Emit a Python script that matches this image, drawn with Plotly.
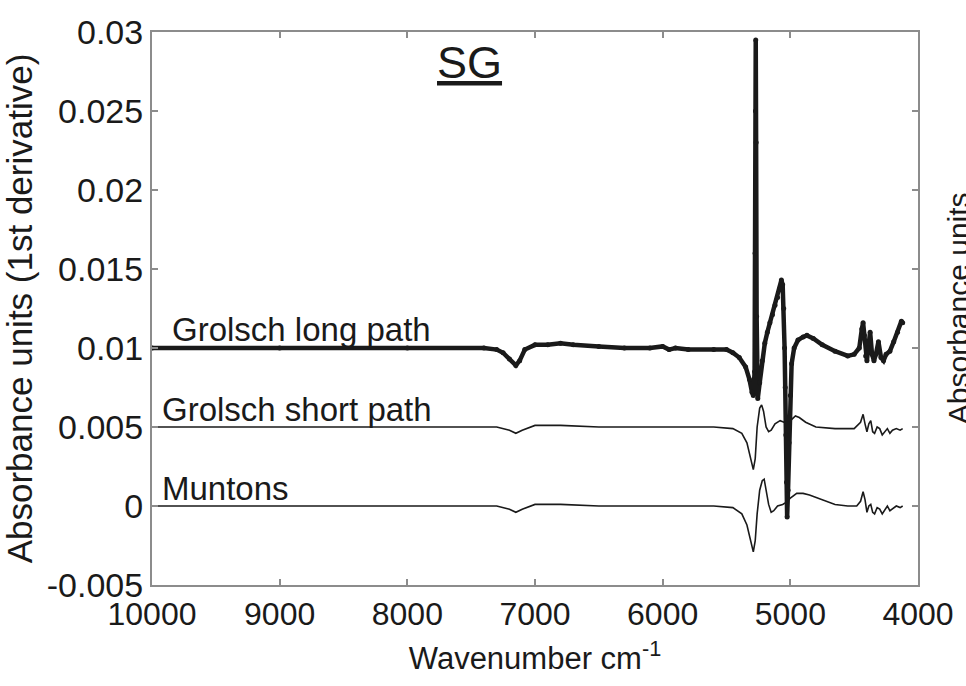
import plotly.graph_objects as go

# ---------------- data ----------------
long_x = [10000, 9000, 8000, 7400, 7300, 7250, 7200, 7150, 7120, 7080, 7000, 6900, 6800, 6700, 6500,
          6300, 6100, 6000, 5950, 5900, 5800, 5600, 5500, 5450, 5400, 5350, 5320, 5300, 5290, 5280,
          5276, 5273, 5271, 5268, 5264, 5255, 5240, 5220, 5200, 5180, 5160, 5140, 5120, 5100, 5080,
          5070, 5060, 5052, 5045, 5040, 5035, 5030, 5025, 5018, 5010, 5000, 4990, 4970, 4940, 4900,
          4870, 4820, 4750, 4650, 4550, 4500, 4460, 4440, 4430, 4420, 4410, 4400, 4390, 4375, 4360,
          4345, 4330, 4310, 4290, 4270, 4250, 4220, 4190, 4160, 4130, 4120]
long_y = [0.0100, 0.0100, 0.0100, 0.0100, 0.0099, 0.0097, 0.0093, 0.0089, 0.0092, 0.0099, 0.0102, 0.0102,
          0.0103, 0.0102, 0.0101, 0.0100, 0.0100, 0.0101, 0.0099, 0.0100, 0.0099, 0.0099, 0.0099, 0.0097,
          0.0094, 0.0088, 0.0080, 0.0072, 0.0070, 0.0085, 0.0160, 0.0250, 0.0295, 0.0230, 0.0120, 0.0068,
          0.0078, 0.0092, 0.0103, 0.0110, 0.0116, 0.0121, 0.0127, 0.0132, 0.0138, 0.0143, 0.0140, 0.0125,
          0.0100, 0.0075, 0.0045, 0.0015, -0.0007, 0.0010, 0.0040, 0.0070, 0.0090, 0.0100, 0.0105, 0.0107,
          0.0108, 0.0106, 0.0102, 0.0098, 0.0095, 0.0096, 0.0100, 0.0112, 0.0116, 0.0108, 0.0095, 0.0092,
          0.0100, 0.0110, 0.0096, 0.0092, 0.0096, 0.0104, 0.0094, 0.0092, 0.0096, 0.0098, 0.0104, 0.0110,
          0.0117, 0.0116]

short_x = [10000, 9000, 8000, 7300, 7200, 7150, 7100, 7000, 6800, 6500, 6000, 5600, 5450, 5380, 5340,
           5310, 5290, 5275, 5260, 5240, 5225, 5210, 5190, 5170, 5150, 5120, 5080, 5050, 5000, 4960,
           4930, 4880, 4800, 4650, 4500, 4450, 4430, 4415, 4400, 4385, 4370, 4355, 4340, 4320, 4300,
           4280, 4260, 4240, 4220, 4200, 4170, 4140, 4120]
short_y = [0.0050, 0.0050, 0.0050, 0.0050, 0.0048, 0.0046, 0.0048, 0.0051, 0.0051, 0.0050, 0.0050, 0.0050,
           0.0049, 0.0046, 0.0040, 0.0030, 0.0023, 0.0030, 0.0050, 0.0062, 0.0064, 0.0060, 0.0050, 0.0047,
           0.0048, 0.0052, 0.0054, 0.0053, 0.0054, 0.0057, 0.0056, 0.0053, 0.0050, 0.0049, 0.0049, 0.0053,
           0.0058, 0.0052, 0.0047, 0.0052, 0.0054, 0.0047, 0.0046, 0.0050, 0.0049, 0.0045, 0.0047, 0.0049,
           0.0046, 0.0048, 0.0049, 0.0048, 0.0049]

munt_x = [10000, 9000, 8000, 7300, 7200, 7150, 7100, 7000, 6800, 6500, 6000, 5600, 5450, 5380, 5340,
          5310, 5290, 5275, 5260, 5240, 5220, 5205, 5190, 5170, 5150, 5130, 5100, 5060, 5040, 5000,
          4950, 4900, 4850, 4750, 4650, 4550, 4480, 4450, 4430, 4415, 4400, 4385, 4370, 4355, 4340,
          4320, 4300, 4280, 4260, 4240, 4220, 4200, 4170, 4140, 4120]
munt_y = [0.0000, 0.0000, 0.0000, 0.0000, -0.0002, -0.0004, -0.0002, 0.0001, 0.0001, 0.0000, 0.0000, 0.0000,
          -0.0001, -0.0005, -0.0012, -0.0022, -0.0029, -0.0022, -0.0005, 0.0010, 0.0016, 0.0017, 0.0010,
          0.0001, -0.0004, -0.0003, 0.0000, 0.0001, 0.0002, 0.0005, 0.0008, 0.0008, 0.0007, 0.0004, 0.0001,
          0.0000, 0.0000, 0.0003, 0.0009, 0.0004, -0.0004, 0.0000, 0.0001, -0.0004, -0.0005, -0.0001,
          -0.0002, -0.0005, -0.0002, 0.0000, -0.0003, -0.0002, 0.0000, -0.0001, 0.0000]

x_ticks = [10000, 9000, 8000, 7000, 6000, 5000, 4000]
x_tick_labels = ["10000", "9000", "8000", "7000", "6000", "5000", "4000"]
y_ticks = [-0.005, 0, 0.005, 0.01, 0.015, 0.02, 0.025, 0.03]
y_tick_labels = ["-0.005", "0", "0.005", "0.01", "0.015", "0.02", "0.025", "0.03"]

series_labels = ["Grolsch long path", "Grolsch short path", "Muntons"]
label_pos_x = [9860, 9935, 9935]
label_pos_y = [0.0112, 0.0061, 0.0011]

# ---------------- figure ----------------
FONT = "Liberation Sans, Arial, Helvetica, sans-serif"
INK = "#1a1a1a"
FRAME = "#8c8c8c"

fig = go.Figure()
fig.add_trace(go.Scatter(x=munt_x, y=munt_y, mode="lines",
                         line=dict(color=INK, width=1.6), showlegend=False))
fig.add_trace(go.Scatter(x=short_x, y=short_y, mode="lines",
                         line=dict(color=INK, width=1.6), showlegend=False))
fig.add_trace(go.Scatter(x=long_x, y=long_y, mode="lines+markers",
                         line=dict(color=INK, width=4.5),
                         marker=dict(color=INK, size=5),
                         showlegend=False))

for t, lx, ly in zip(series_labels, label_pos_x, label_pos_y):
    fig.add_annotation(x=lx, y=ly, xref="x", yref="y", text=t, showarrow=False,
                       xanchor="left", yanchor="middle",
                       font=dict(family=FONT, size=33, color=INK))

fig.add_annotation(x=0.415, y=0.945, xref="paper", yref="paper", text="<u>SG</u>",
                   showarrow=False, xanchor="center", yanchor="middle",
                   font=dict(family=FONT, size=45, color=INK))

fig.add_annotation(x=1.029, y=0.5, xref="paper", yref="paper", text="Absorbance units",
                   showarrow=False, xanchor="left", yanchor="middle", textangle=-90,
                   font=dict(family=FONT, size=30, color=INK))

axis_common = dict(showline=True, linecolor=FRAME, linewidth=2, mirror="ticks",
                   ticks="inside", ticklen=6, tickwidth=1.5, tickcolor=FRAME,
                   showgrid=False, zeroline=False)

fig.update_layout(
    width=966, height=686,
    margin=dict(l=152, r=45, t=32, b=101),
    paper_bgcolor="white", plot_bgcolor="white",
    xaxis=dict(range=[10000, 4000], tickvals=x_ticks, ticktext=x_tick_labels,
               tickfont=dict(family=FONT, size=32, color=INK),
               title=dict(text="Wavenumber cm<sup>-1</sup>", standoff=16,
                          font=dict(family=FONT, size=31, color=INK)),
               **axis_common),
    yaxis=dict(range=[-0.005, 0.03], tickvals=y_ticks, ticktext=y_tick_labels,
               tickfont=dict(family=FONT, size=34, color=INK),
               title=dict(text="Absorbance units (1st derivative)", standoff=4,
                          font=dict(family=FONT, size=35, color=INK)),
               **axis_common),
)

fig.write_html("out.html")
